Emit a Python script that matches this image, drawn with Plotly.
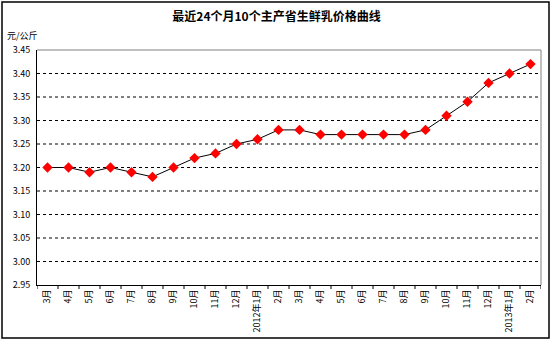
import plotly.graph_objects as go

categories = ["3月", "4月", "5月", "6月", "7月", "8月", "9月", "10月", "11月", "12月",
              "2012年1月", "2月", "3月", "4月", "5月", "6月", "7月", "8月", "9月", "10月",
              "11月", "12月", "2013年1月", "2月"]
prices = [3.20, 3.20, 3.19, 3.20, 3.19, 3.18, 3.20, 3.22, 3.23, 3.25, 3.26, 3.28,
          3.28, 3.27, 3.27, 3.27, 3.27, 3.27, 3.28, 3.31, 3.34, 3.38, 3.40, 3.42]
y_ticks = [2.95, 3.00, 3.05, 3.10, 3.15, 3.20, 3.25, 3.30, 3.35, 3.40, 3.45]

x_idx = list(range(len(categories)))
font = "Noto Sans CJK SC, sans-serif"

fig = go.Figure()
fig.add_trace(go.Scatter(
    x=x_idx, y=prices, mode="lines+markers",
    line=dict(color="black", width=1),
    marker=dict(symbol="diamond", color="red", size=8, line=dict(width=0)),
    hoverinfo="skip", showlegend=False,
))

W, H = 553, 341
ml, mr, mt, mb = 37, 12, 50, 56
pw, ph = W - ml - mr, H - mt - mb

# dashed gridlines
for v in y_ticks[1:-1]:
    fig.add_shape(type="line", xref="paper", yref="y", x0=0, x1=1, y0=v, y1=v,
                  line=dict(color="black", width=1, dash="3px,3px"), layer="below")

# plot border top/right grey
fig.add_shape(type="line", xref="paper", yref="paper", x0=0, x1=1, y0=1, y1=1,
              line=dict(color="#808080", width=1))
fig.add_shape(type="line", xref="paper", yref="paper", x0=1, x1=1, y0=0, y1=1,
              line=dict(color="#808080", width=1))

# outer border
fig.add_shape(type="rect", xref="paper", yref="paper",
              x0=(2 - ml) / pw, x1=(549 - ml) / pw,
              y0=1 - (338 - mt) / ph, y1=1 - (2 - mt) / ph,
              line=dict(color="black", width=1.5))

fig.update_layout(
    width=W, height=H,
    margin=dict(l=ml, r=mr, t=mt, b=mb, autoexpand=False),
    paper_bgcolor="white", plot_bgcolor="white",
    font=dict(family=font, size=9, color="black"),
    title=dict(text="<b>最近24个月10个主产省生鲜乳价格曲线</b>", x=0.5, xanchor="center",
               y=1 - 17 / H, yanchor="middle", font=dict(size=12, family=font)),
    xaxis=dict(
        range=[-0.5, len(categories) - 0.5], automargin=False,
        tickmode="array", tickvals=x_idx, ticktext=categories,
        tickangle=-90, showgrid=False, zeroline=False,
        showline=True, linecolor="black", linewidth=1,
        ticks="", tickfont=dict(size=9),
    ),
    yaxis=dict(
        range=[2.95, 3.45], tickmode="array", tickvals=y_ticks, automargin=False,
        ticktext=[f"{v:.2f}" for v in y_ticks],
        showgrid=False, zeroline=False,
        showline=True, linecolor="black", linewidth=1,
        ticks="", tickfont=dict(size=9), ticklabelstandoff=4,
    ),
    annotations=[dict(text="元/公斤", xref="paper", yref="paper",
                      x=(5 - ml) / pw, y=1 + (mt - 36) / ph, xanchor="left", yanchor="middle",
                      showarrow=False, font=dict(size=9, family=font))],
)

# boundary tick marks on x axis
for i in range(len(categories) + 1):
    fig.add_shape(type="line", xref="x", yref="paper", x0=i - 0.5, x1=i - 0.5,
                  y0=0, y1=-4 / ph, line=dict(color="black", width=1))

fig.write_html("out.html")
